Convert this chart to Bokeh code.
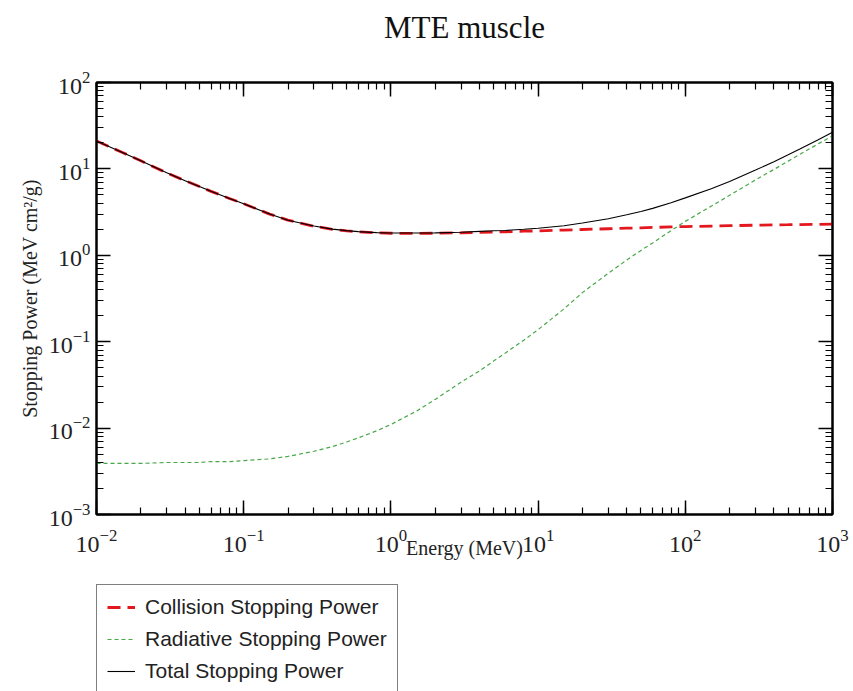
from bokeh.plotting import figure
from bokeh.layouts import column
from bokeh.models import (Range1d, LogAxis, LogTicker, Legend, LegendItem,
                          ColumnDataSource, CustomJSTickFormatter)
from bokeh.embed import file_html
from bokeh.resources import INLINE

# ---- data ----
energy_mev = [0.01, 0.015, 0.02, 0.03, 0.04, 0.05, 0.06, 0.08, 0.1, 0.15, 0.2,
              0.3, 0.4, 0.5, 0.6, 0.8, 1, 1.5, 2, 3, 4, 5, 6, 8, 10, 15, 20,
              30, 40, 50, 60, 80, 100, 150, 200, 300, 400, 500, 600, 800, 1000]
collision = [21.0, 15.5, 12.4, 9.0, 7.3, 6.25, 5.5, 4.55, 3.95, 3.0, 2.55,
             2.17, 2.0, 1.92, 1.87, 1.82, 1.80, 1.79, 1.80, 1.82, 1.84, 1.86,
             1.87, 1.90, 1.92, 1.96, 1.99, 2.03, 2.06, 2.08, 2.10, 2.13, 2.15,
             2.18, 2.20, 2.23, 2.25, 2.26, 2.27, 2.28, 2.29]
radiative = [0.0039, 0.0039, 0.0039, 0.0040, 0.0040, 0.0040, 0.0041, 0.0041,
             0.0042, 0.0044, 0.0047, 0.0054, 0.0061, 0.0069, 0.0077, 0.0093,
             0.0110, 0.0158, 0.0215, 0.034, 0.046, 0.060, 0.074, 0.104, 0.138,
             0.24, 0.37, 0.62, 0.88, 1.14, 1.39, 1.93, 2.47, 3.70, 4.95, 7.45,
             9.85, 12.3, 14.7, 19.5, 24.2]
total = [21.0, 15.5, 12.4, 9.0, 7.3, 6.25, 5.5, 4.55, 3.95, 3.0, 2.55, 2.18,
         2.01, 1.93, 1.88, 1.83, 1.81, 1.81, 1.82, 1.85, 1.89, 1.92, 1.94,
         2.00, 2.06, 2.20, 2.36, 2.65, 2.94, 3.22, 3.49, 4.06, 4.62, 5.88,
         7.15, 9.68, 12.10, 14.56, 16.97, 21.78, 26.49]
series_labels = ["Collision Stopping Power", "Radiative Stopping Power",
                 "Total Stopping Power"]
title_text = "MTE muscle"
x_label = "Energy (MeV)"
y_label = "Stopping Power (MeV cm\u00b2/g)"
x_limits = (1e-2, 1e3)
y_limits = (1e-3, 1e2)

src = ColumnDataSource(dict(e=energy_mev, c=collision, r=radiative, t=total))

SERIF = "Liberation Serif"
SANS = "Liberation Sans"

styles = [dict(line_color="#e3181f", line_width=2.8, line_dash="13 7"),
          dict(line_color="#48a848", line_width=1.2, line_dash="4 3"),
          dict(line_color="black", line_width=1.1, line_dash="solid")]
cols = ["c", "r", "t"]

p = figure(width=853, height=570, x_axis_type="log", y_axis_type="log",
           x_range=Range1d(*x_limits), y_range=Range1d(*y_limits),
           output_backend="svg", toolbar_location=None,
           min_border_left=96, min_border_right=21, min_border_top=82,
           min_border_bottom=56, title=title_text)

p.title.text_font = SERIF
p.title.text_font_size = "31px"
p.title.text_font_style = "normal"
p.title.text_color = "#111111"
p.title.align = "center"
p.title.standoff = 0

p.xgrid.visible = False
p.ygrid.visible = False
p.outline_line_color = "black"
p.outline_line_width = 2


def style_axis(ax):
    ax.ticker = LogTicker(num_minor_ticks=10)
    ax.axis_line_color = "black"
    ax.axis_line_width = 2
    ax.major_tick_in = 14
    ax.major_tick_out = 0
    ax.minor_tick_in = 7
    ax.minor_tick_out = 0
    ax.major_tick_line_width = 1.5
    ax.minor_tick_line_width = 1.2
    ax.major_tick_line_color = "black"
    ax.minor_tick_line_color = "black"
    ax.major_label_text_font = SERIF
    ax.major_label_text_font_size = "24px"
    ax.major_label_text_color = "#222222"
    ax.axis_label_text_font = SERIF
    ax.axis_label_text_font_style = "normal"
    ax.axis_label_text_color = "#222222"


xa = p.xaxis[0]
ya = p.yaxis[0]
style_axis(xa)
style_axis(ya)
xa.axis_label = x_label
xa.axis_label_text_font_size = "20px"
xa.major_label_standoff = 15
xa.axis_label_standoff = -18
ya.axis_label = y_label
ya.axis_label_text_font_size = "20px"
ya.major_label_standoff = 6
ya.axis_label_standoff = 5

blank = CustomJSTickFormatter(code="return ' ';")
top_ax = LogAxis(formatter=blank)
right_ax = LogAxis(formatter=blank)
style_axis(top_ax)
style_axis(right_ax)
top_ax.major_label_text_font_size = "4px"
right_ax.major_label_text_font_size = "4px"
top_ax.major_label_standoff = 30
right_ax.major_label_standoff = 0
p.add_layout(top_ax, "above")
p.add_layout(right_ax, "right")

for col, st in zip(cols, styles):
    p.line("e", col, source=src, **st)

# ---- legend panel under the plot (same series, same styles) ----
leg = figure(width=853, height=121, x_range=Range1d(0, 1),
             y_range=Range1d(-2, -1), output_backend="svg",
             toolbar_location=None, x_axis_location=None,
             y_axis_location=None, min_border=0)
leg.outline_line_color = None
leg.xgrid.visible = False
leg.ygrid.visible = False
leg_renderers = [leg.line("e", col, source=src, **st)
                 for col, st in zip(cols, styles)]

legend = Legend(items=[LegendItem(label=lab, renderers=[r])
                       for lab, r in zip(series_labels, leg_renderers)],
                location=(0, -3))
legend.label_text_font = SANS
legend.label_text_font_size = "21px"
legend.label_text_color = "#222222"
legend.label_height = 20
legend.glyph_height = 20
legend.glyph_width = 28
legend.label_standoff = 10
legend.spacing = 8
legend.padding = 10
legend.margin = 0
legend.border_line_color = "black"
legend.border_line_width = 1.5
legend.background_fill_alpha = 1
leg.add_layout(legend, "center")

layout = column(p, leg, spacing=0)
open("out.html", "w").write(file_html(layout, INLINE))
